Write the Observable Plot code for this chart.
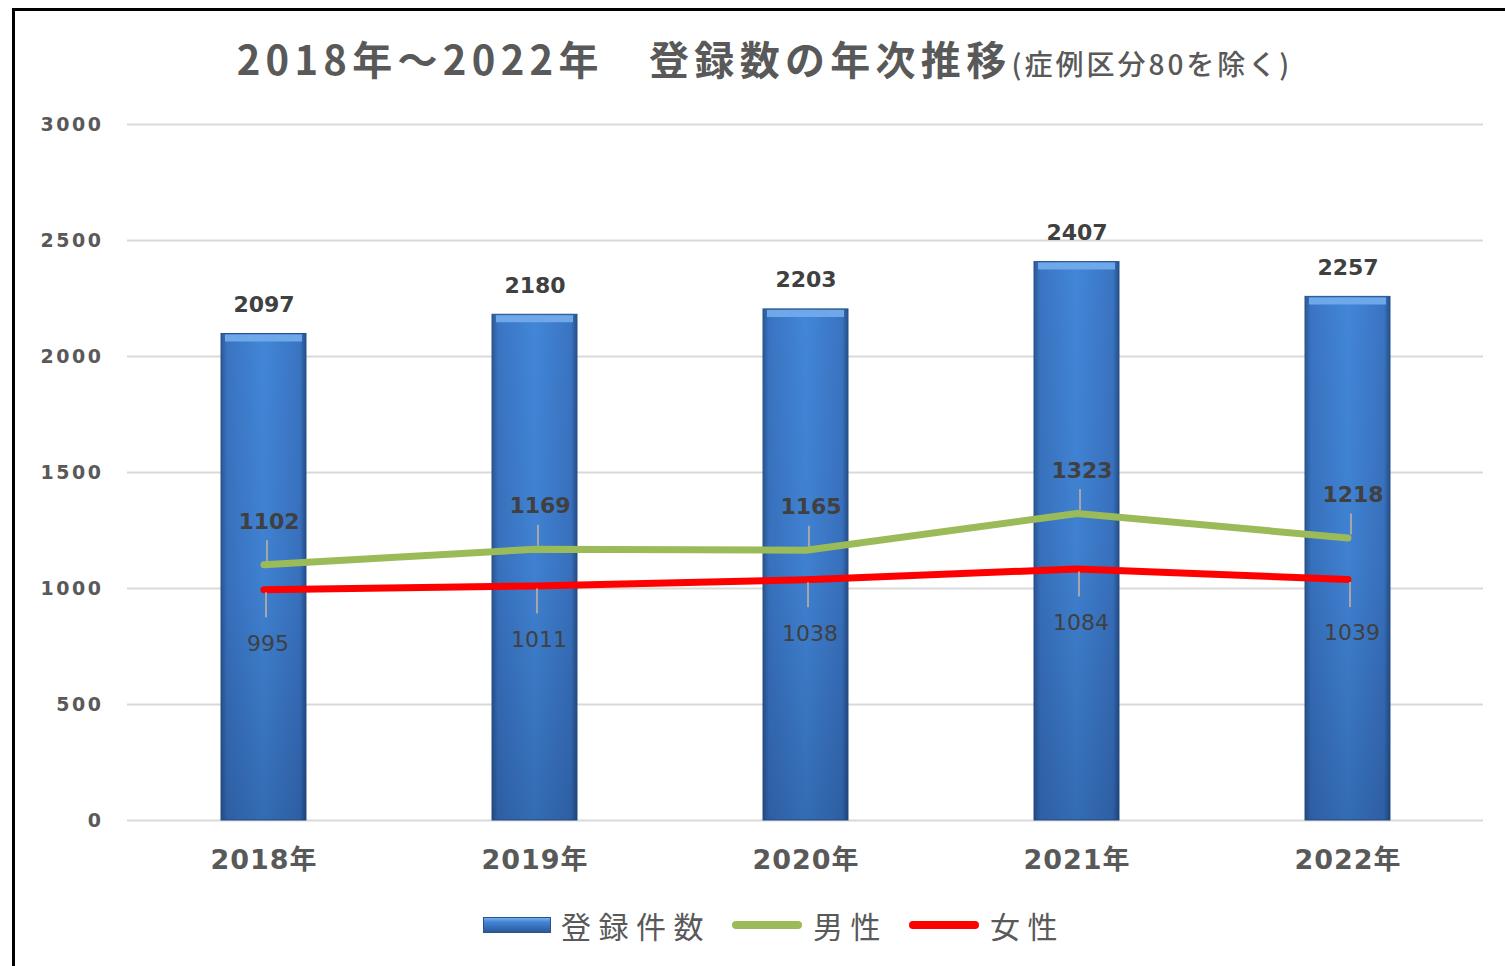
<!DOCTYPE html>
<html>
<head>
<meta charset="utf-8">
<script src="https://cdn.jsdelivr.net/npm/d3@7"></script>
<script src="https://cdn.jsdelivr.net/npm/@observablehq/plot@0.6"></script>
<style>
  html, body { margin: 0; padding: 0; background: #fff; width: 1505px; height: 966px; overflow: hidden; }
  #frame { position: absolute; left: 12px; top: 8px; width: 1600px; height: 1000px;
           border-left: 3px solid #000; border-top: 3px solid #000; box-sizing: border-box; }
  #title { position: absolute; top: 29px; left: 24px; right: 0; text-align: center; color: #595959;
           font-family: "Noto Sans CJK JP", sans-serif; white-space: nowrap; }
  #title .main { font-size: 40px; font-weight: 700; letter-spacing: 5.3px; }
  #title .sub { font-size: 28px; font-weight: 500; letter-spacing: 3px; }
  #chart { position: absolute; left: 0; top: 100px; }
  #chart svg text { font-family: "DejaVu Sans", "Noto Sans CJK JP", sans-serif; }
  #chart g[aria-label="y-axis tick label"] text { letter-spacing: 2.5px; }
  #chart g[aria-label="x-axis tick label"] text { letter-spacing: 1px; }
  #legend { position: absolute; top: 903px; left: 483px; display: flex; align-items: center;
            font-family: "Noto Sans CJK JP", sans-serif; font-size: 30px; color: #595959; letter-spacing: 7.5px; }
  #legend .item { display: flex; align-items: center; margin-right: 20px; }
  #legend svg { margin-right: 10px; }
</style>
</head>
<body>
<div id="frame"></div>
<div id="title"><span class="main">2018年～2022年　登録数の年次推移</span><span class="sub">(症例区分80を除く)</span></div>
<div id="chart"></div>
<div id="legend"></div>
<script>
// ---- data ----
const years = ["2018年", "2019年", "2020年", "2021年", "2022年"];
const totals = [2097, 2180, 2203, 2407, 2257];
const male = [1102, 1169, 1165, 1323, 1218];
const female = [995, 1011, 1038, 1084, 1039];
const yTicks = [0, 500, 1000, 1500, 2000, 2500, 3000];
const seriesNames = ["登録件数", "男性", "女性"];

const rows = years.map((year, i) => ({year, total: totals[i], male: male[i], female: female[i]}));

const GREEN = "#9BBB59", RED = "#FF0000", TXT = "#404040", AX = "#595959";

const svg = Plot.plot({
  width: 1505,
  height: 800,
  marginTop: 24,
  marginBottom: 80,
  marginLeft: 127,
  marginRight: 22,
  x: {domain: years, paddingInner: 0.687, paddingOuter: 0.3435, label: null},
  y: {domain: [0, 3000], label: null},
  marks: [
    Plot.gridY(yTicks, {stroke: "#d9d9d9", strokeOpacity: 1, strokeWidth: 2}),
    Plot.axisY(yTicks, {tickSize: 0, tickPadding: 24, tickFormat: d => String(d), fontSize: 19, fontWeight: "bold", fill: AX, label: null}),
    Plot.axisX({tickSize: 0, tickPadding: 29, fontSize: 27, fontWeight: "bold", fill: AX, label: null}),
    Plot.barY(rows, {x: "year", y: "total", fill: "url(#barH)", stroke: "#2A5288", strokeWidth: 1}),
    Plot.barY(rows, {x: "year", y: "total", fill: "url(#barV)"}),
    Plot.tickY(rows, {x: "year", y: "total", stroke: "#6EA8E9", strokeWidth: 7, dy: 4, insetLeft: 4, insetRight: 4}),
    Plot.text(rows, {x: "year", y: "total", text: d => String(d.total), dy: -29, fontSize: 22, fontWeight: "bold", fill: TXT}),
    Plot.line(rows, {x: "year", y: "male", stroke: GREEN, strokeWidth: 7, strokeLinecap: "round", strokeLinejoin: "round"}),
    Plot.line(rows, {x: "year", y: "female", stroke: RED, strokeWidth: 7, strokeLinecap: "round", strokeLinejoin: "round"}),
    Plot.ruleX(rows, {x: "year", y1: "male", y2: "male", insetTop: -24, insetBottom: 3, dx: 3, stroke: "#a6a6a6", strokeWidth: 2}),
    Plot.ruleX(rows, {x: "year", y1: "female", y2: "female", insetTop: 3, insetBottom: -28, dx: 2, stroke: "#a6a6a6", strokeWidth: 2}),
    Plot.text(rows, {x: "year", y: "male", text: d => String(d.male), dy: -43, dx: 5, fontSize: 22, fontWeight: "bold", fill: TXT}),
    Plot.text(rows, {x: "year", y: "female", text: d => String(d.female), dy: 54, dx: 4, fontSize: 22, fill: TXT})
  ]
});

const defs = document.createElementNS("http://www.w3.org/2000/svg", "defs");
defs.innerHTML = `
  <linearGradient id="barH" x1="0" x2="1" y1="0" y2="0">
    <stop offset="0" stop-color="#2B5895"/>
    <stop offset="0.07" stop-color="#3A74C2"/>
    <stop offset="0.5" stop-color="#4286D8"/>
    <stop offset="0.93" stop-color="#3A74C2"/>
    <stop offset="1" stop-color="#25508A"/>
  </linearGradient>
  <linearGradient id="barV" x1="0" x2="0" y1="0" y2="1">
    <stop offset="0" stop-color="#000" stop-opacity="0"/>
    <stop offset="0.5" stop-color="#0a1e46" stop-opacity="0.05"/>
    <stop offset="1" stop-color="#0a1e46" stop-opacity="0.25"/>
  </linearGradient>`;
svg.insertBefore(defs, svg.firstChild);
document.getElementById("chart").appendChild(svg);

// ---- legend ----
const legend = document.getElementById("legend");
const swatches = [
  `<svg width="68" height="16"><defs><linearGradient id="lg" x1="0" x2="0" y1="0" y2="1"><stop offset="0" stop-color="#7CB5F0"/><stop offset="0.3" stop-color="#4285D7"/><stop offset="1" stop-color="#2B5895"/></linearGradient></defs><rect x="0.5" y="0.5" width="67" height="15" fill="url(#lg)" stroke="#2A5288"/></svg>`,
  `<svg width="72" height="16"><line x1="5" x2="67" y1="8" y2="8" stroke="${GREEN}" stroke-width="8" stroke-linecap="round"/></svg>`,
  `<svg width="72" height="16"><line x1="5" x2="67" y1="8" y2="8" stroke="${RED}" stroke-width="8" stroke-linecap="round"/></svg>`
];
seriesNames.forEach((name, i) => {
  const item = document.createElement("div");
  item.className = "item";
  item.innerHTML = swatches[i] + `<span>${name}</span>`;
  legend.appendChild(item);
});
</script>
</body>
</html>
